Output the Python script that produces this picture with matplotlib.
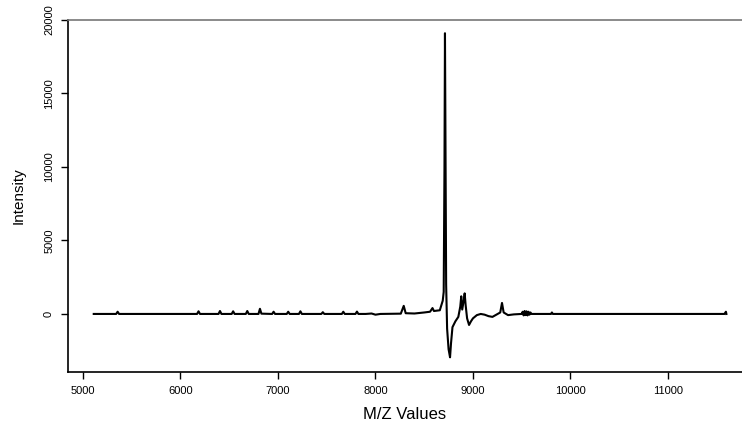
import matplotlib
matplotlib.use("Agg")
import matplotlib.pyplot as plt

plt.rcParams['font.family'] = ['Liberation Sans', 'DejaVu Sans']

# Hand-read spectrum points (m/z, intensity)
mz = [5110, 5340, 5355, 5370, 6170, 6185, 6200, 6390, 6405, 6420,
      6525, 6540, 6555, 6670, 6685, 6700, 6800, 6815, 6830, 6940,
      6955, 6970, 7090, 7105, 7120, 7215, 7230, 7245, 7445, 7460,
      7475, 7655, 7670, 7685, 7795, 7810, 7825, 7900, 7960, 8000,
      8050, 8260, 8290, 8310, 8400, 8500, 8560, 8585, 8600, 8660,
      8690, 8700, 8708, 8713, 8718, 8725, 8735, 8750, 8765, 8775,
      8790, 8820, 8850, 8870, 8880, 8890, 8905, 8915, 8925, 8940,
      8960, 8980, 9000, 9040, 9080, 9120, 9160, 9200, 9240, 9280,
      9298, 9315, 9360, 9420, 9500, 9510, 9520, 9530, 9540, 9550,
      9560, 9570, 9580, 9590, 9600, 9800, 9810, 9820, 11580, 11595,
      11600]
intensity = [0, 0, 150, 0, 0, 180, 0, 0, 200, 0,
             0, 180, 0, 0, 200, 0, 0, 350, 20, 0,
             150, 0, 0, 150, 0, 0, 180, 0, 0, 120,
             0, 0, 150, 0, 0, 160, 0, 0, 30, -50,
             0, 20, 550, 50, 30, 100, 150, 400, 200, 250,
             900, 1500, 10000, 19100, 12000, 2000, -1000, -2400, -2950, -2000,
             -900, -500, -200, 500, 1200, 300, 900, 1400, 600, -300,
             -750, -500, -300, -80, 0, -50, -150, -200, -50, 100,
             750, 100, -80, -30, 0, 150, -100, 200, -80, 180,
             -100, 150, -50, 100, 0, 0, 100, 0, 0, 150,
             0]

xticks = [5000, 6000, 7000, 8000, 9000, 10000, 11000]
yticks = [0, 5000, 10000, 15000, 20000]

W, H = 742, 424
fig = plt.figure(figsize=(W / 100, H / 100), dpi=100)
ax = fig.add_axes([68 / W, (H - 372) / H, (W - 68) / W, (372 - 20) / H])

ax.plot(mz, intensity, color='black', lw=1.5)

ax.set_xlim(4846, 11760)
ax.set_ylim(-3950, 20000)

ax.set_xticks(xticks)
ax.set_xticklabels([str(v) for v in xticks])
ax.set_yticks(yticks)
ax.set_yticklabels([str(v) for v in yticks], rotation=90, va='center')

ax.spines['right'].set_visible(False)
ax.spines['top'].set_color('#777777')
ax.spines['top'].set_linewidth(1.2)
ax.spines['left'].set_linewidth(1.2)
ax.spines['bottom'].set_linewidth(1.2)

ax.tick_params(axis='x', length=5, width=1, labelsize=8, pad=5, colors='black')
ax.tick_params(axis='y', length=5, width=1, labelsize=8, pad=5, colors='black')

ax.set_xlabel('M/Z Values', fontsize=12, labelpad=8)
ax.set_ylabel('Intensity', fontsize=11, labelpad=13)

fig.savefig('out.png', dpi=100)
